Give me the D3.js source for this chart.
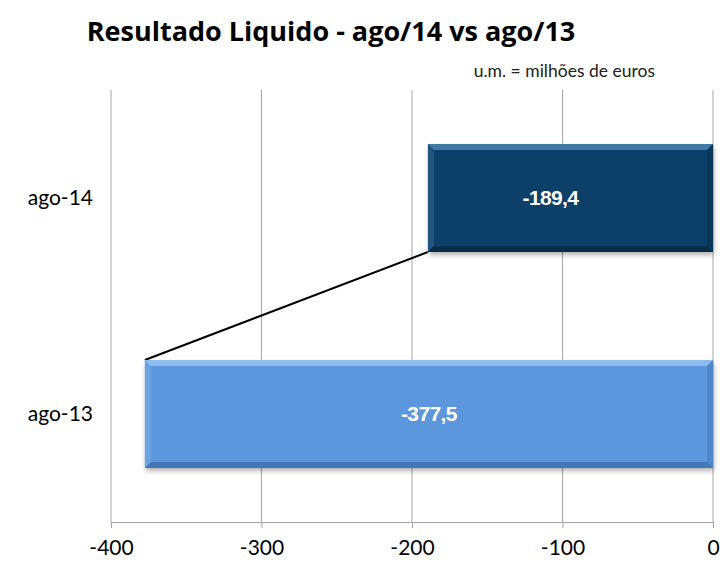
<!DOCTYPE html>
<html>
<head>
<meta charset="utf-8">
<script src="https://cdn.jsdelivr.net/npm/d3@7"></script>
<style>
  body { margin: 0; background: #fff; }
  svg text { font-family: Lato, "Open Sans", "DejaVu Sans", sans-serif; }
</style>
</head>
<body>
<script>
/* Chart data */
var categories = ["ago-14", "ago-13"];
var values = [-189.4, -377.5];
var labels = ["-189,4", "-377,5"];
var tickValues = [-400, -300, -200, -100, 0];
var tickLabels = ["-400", "-300", "-200", "-100", "0"];
var fills = ["#0b4168", "#5b96dc"];
var lights = ["#3f7aa6", "#8fbdf0"];
var darks = ["#072d48", "#4477b8"];

var width = 720, height = 568;
var margin = {top: 90, right: 7, bottom: 46, left: 111};

var svg = d3.select("body").append("svg")
    .attr("width", width)
    .attr("height", height);

var defs = svg.append("defs");
var shadow = defs.append("filter").attr("id", "shadow")
    .attr("x", "-5%").attr("y", "-10%").attr("width", "115%").attr("height", "130%");
shadow.append("feDropShadow")
    .attr("dx", 1).attr("dy", 3).attr("stdDeviation", 2.5)
    .attr("flood-color", "#000").attr("flood-opacity", 0.3);

var x = d3.scaleLinear()
    .domain([-400, 0])
    .range([margin.left, width - margin.right]);

var y = d3.scaleBand()
    .domain(categories)
    .range([margin.top, height - margin.bottom])
    .paddingInner(0.5)
    .paddingOuter(0.25);

/* Title */
svg.append("text")
    .attr("x", 331).attr("y", 41)
    .attr("text-anchor", "middle")
    .attr("font-size", 27).attr("font-weight", "bold")
    .attr("fill", "#000")
    .style("font-family", "'Open Sans', sans-serif")
    .text("Resultado Liquido - ago/14 vs ago/13");

svg.append("text")
    .attr("x", 655).attr("y", 77)
    .attr("text-anchor", "end")
    .attr("font-size", 17.5)
    .attr("fill", "#222")
    .text("u.m. = milhões de euros");

/* Gridlines */
svg.append("g").selectAll("line")
    .data(tickValues)
  .enter().append("line")
    .attr("x1", function(d) { return x(d); })
    .attr("x2", function(d) { return x(d); })
    .attr("y1", margin.top)
    .attr("y2", height - margin.bottom)
    .attr("stroke", "#a6a6a6")
    .attr("stroke-width", 1);

/* X axis */
var xAxis = svg.append("g")
    .attr("transform", "translate(0," + (height - margin.bottom) + ")")
    .call(d3.axisBottom(x).tickValues(tickValues).tickSize(6).tickPadding(12)
      .tickFormat(function(d, i) { return tickLabels[i]; }));
xAxis.select(".domain").attr("stroke", "#a6a6a6");
xAxis.selectAll(".tick line").attr("stroke", "#a6a6a6");
xAxis.selectAll(".tick text")
    .attr("font-size", 21)
    .attr("fill", "#000")
    .style("font-family", "Lato, 'Open Sans', sans-serif");

/* Category labels */
svg.append("g").selectAll("text")
    .data(categories)
  .enter().append("text")
    .attr("x", 93)
    .attr("y", function(d) { return y(d) + y.bandwidth() / 2; })
    .attr("dy", "0.35em")
    .attr("text-anchor", "end")
    .attr("font-size", 21)
    .attr("fill", "#000")
    .text(function(d) { return d; });

/* Connector line between bar ends */
svg.append("line")
    .attr("x1", x(values[0]))
    .attr("y1", y(categories[0]) + y.bandwidth())
    .attr("x2", x(values[1]))
    .attr("y2", y(categories[1]))
    .attr("stroke", "#000")
    .attr("stroke-width", 2);

/* Bars with bevel */
var bev = 6;
var bars = svg.append("g").selectAll("g")
    .data(values)
  .enter().append("g");

bars.append("rect")
    .attr("x", function(d) { return x(d); })
    .attr("y", function(d, i) { return y(categories[i]); })
    .attr("width", function(d) { return x(0) - x(d); })
    .attr("height", y.bandwidth())
    .attr("fill", function(d, i) { return fills[i]; })
    .attr("filter", "url(#shadow)");

function bevel(d, i, side) {
  var x0 = x(d), x1 = x(0), y0 = y(categories[i]), y1 = y0 + y.bandwidth();
  var pts;
  if (side === "top") pts = [[x0, y0], [x1, y0], [x1 - bev, y0 + bev], [x0 + bev, y0 + bev]];
  if (side === "left") pts = [[x0, y0], [x0 + bev, y0 + bev], [x0 + bev, y1 - bev], [x0, y1]];
  if (side === "bottom") pts = [[x0, y1], [x0 + bev, y1 - bev], [x1 - bev, y1 - bev], [x1, y1]];
  if (side === "right") pts = [[x1, y0], [x1, y1], [x1 - bev, y1 - bev], [x1 - bev, y0 + bev]];
  return pts.map(function(p) { return p.join(","); }).join(" ");
}

bars.append("polygon")
    .attr("points", function(d, i) { return bevel(d, i, "top"); })
    .attr("fill", function(d, i) { return lights[i]; });
bars.append("polygon")
    .attr("points", function(d, i) { return bevel(d, i, "left"); })
    .attr("fill", function(d, i) { return lights[i]; })
    .attr("opacity", 0.35);
bars.append("polygon")
    .attr("points", function(d, i) { return bevel(d, i, "bottom"); })
    .attr("fill", function(d, i) { return darks[i]; });
bars.append("polygon")
    .attr("points", function(d, i) { return bevel(d, i, "right"); })
    .attr("fill", function(d, i) { return darks[i]; })
    .attr("opacity", 0.5);

/* Value labels */
bars.append("text")
    .attr("x", function(d, i) { return (x(d) + x(0)) / 2 - (i === 0 ? 20 : 0); })
    .attr("y", function(d, i) { return y(categories[i]) + y.bandwidth() / 2; })
    .attr("dy", "0.35em")
    .attr("text-anchor", "middle")
    .attr("font-size", 21)
    .attr("font-weight", "bold")
    .attr("fill", "#fff")
    .style("font-family", "'Liberation Sans', Arial, sans-serif")
    .style("letter-spacing", "-0.6px")
    .text(function(d, i) { return labels[i]; });
</script>
</body>
</html>
